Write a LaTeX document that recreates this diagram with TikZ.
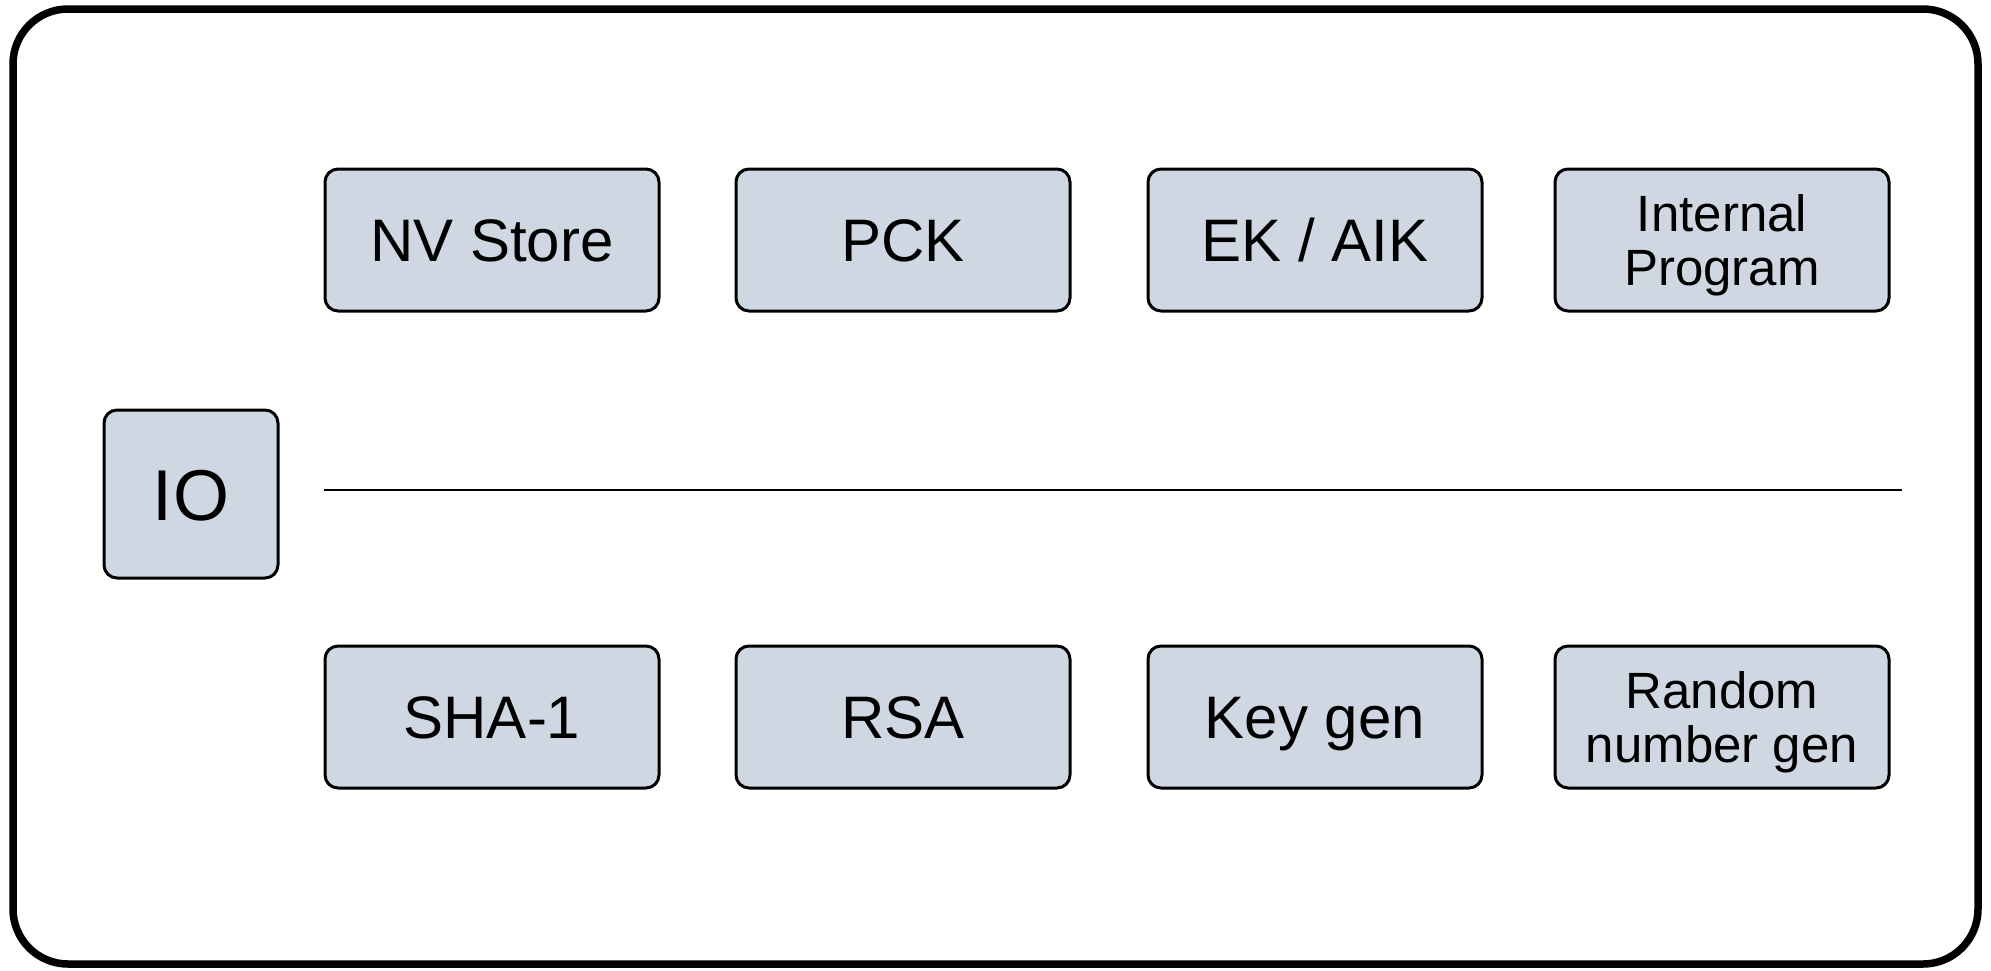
\documentclass[tikz,border=0pt]{standalone}
\usepackage{fontspec}
\setmainfont{Liberation Sans}
\definecolor{boxfill}{RGB}{207,215,227}
\begin{document}
\begin{tikzpicture}[x=1pt,y=-1pt,
  unitbase/.style={draw=black,line width=3pt,fill=boxfill,rounded corners=13pt,
    minimum width=334pt,minimum height=142pt,inner sep=0pt,align=center},
  unit/.style={unitbase,font=\fontsize{60}{66}\selectfont,text height=43pt,text depth=0pt},
  twoline/.style={unitbase,font=\fontsize{51}{54}\selectfont,text depth=0pt},
  frame/.style={draw=black,line width=7.5pt,rounded corners=55pt}]
\useasboundingbox (0,0) rectangle (1991,970);
\draw[frame] (13,9) rectangle (1978,964);
\node[unit] (nv) at (492,240) {NV Store};
\node[unit] (pck) at (903,240) {PCK};
\node[unit] (ek) at (1315,240) {EK / AIK};
\node[twoline] (ip) at (1722,240) {Internal\\Program};
\node[unit] (sha) at (492,717) {SHA-1};
\node[unit] (rsa) at (903,717) {RSA};
\node[unit] (kg) at (1315,717) {Key gen};
\node[twoline] (rng) at (1722,717) {Random\\number gen};
\node[unitbase,minimum width=174pt,minimum height=168pt,font=\fontsize{72}{80}\selectfont,text height=52pt,text depth=0pt] (io) at (191,494) {IO};
\coordinate (busl) at (324,490);
\coordinate (busr) at (1902,490);
\draw[line width=2.5pt] (busl) -- (busr);
\end{tikzpicture}
\end{document}
